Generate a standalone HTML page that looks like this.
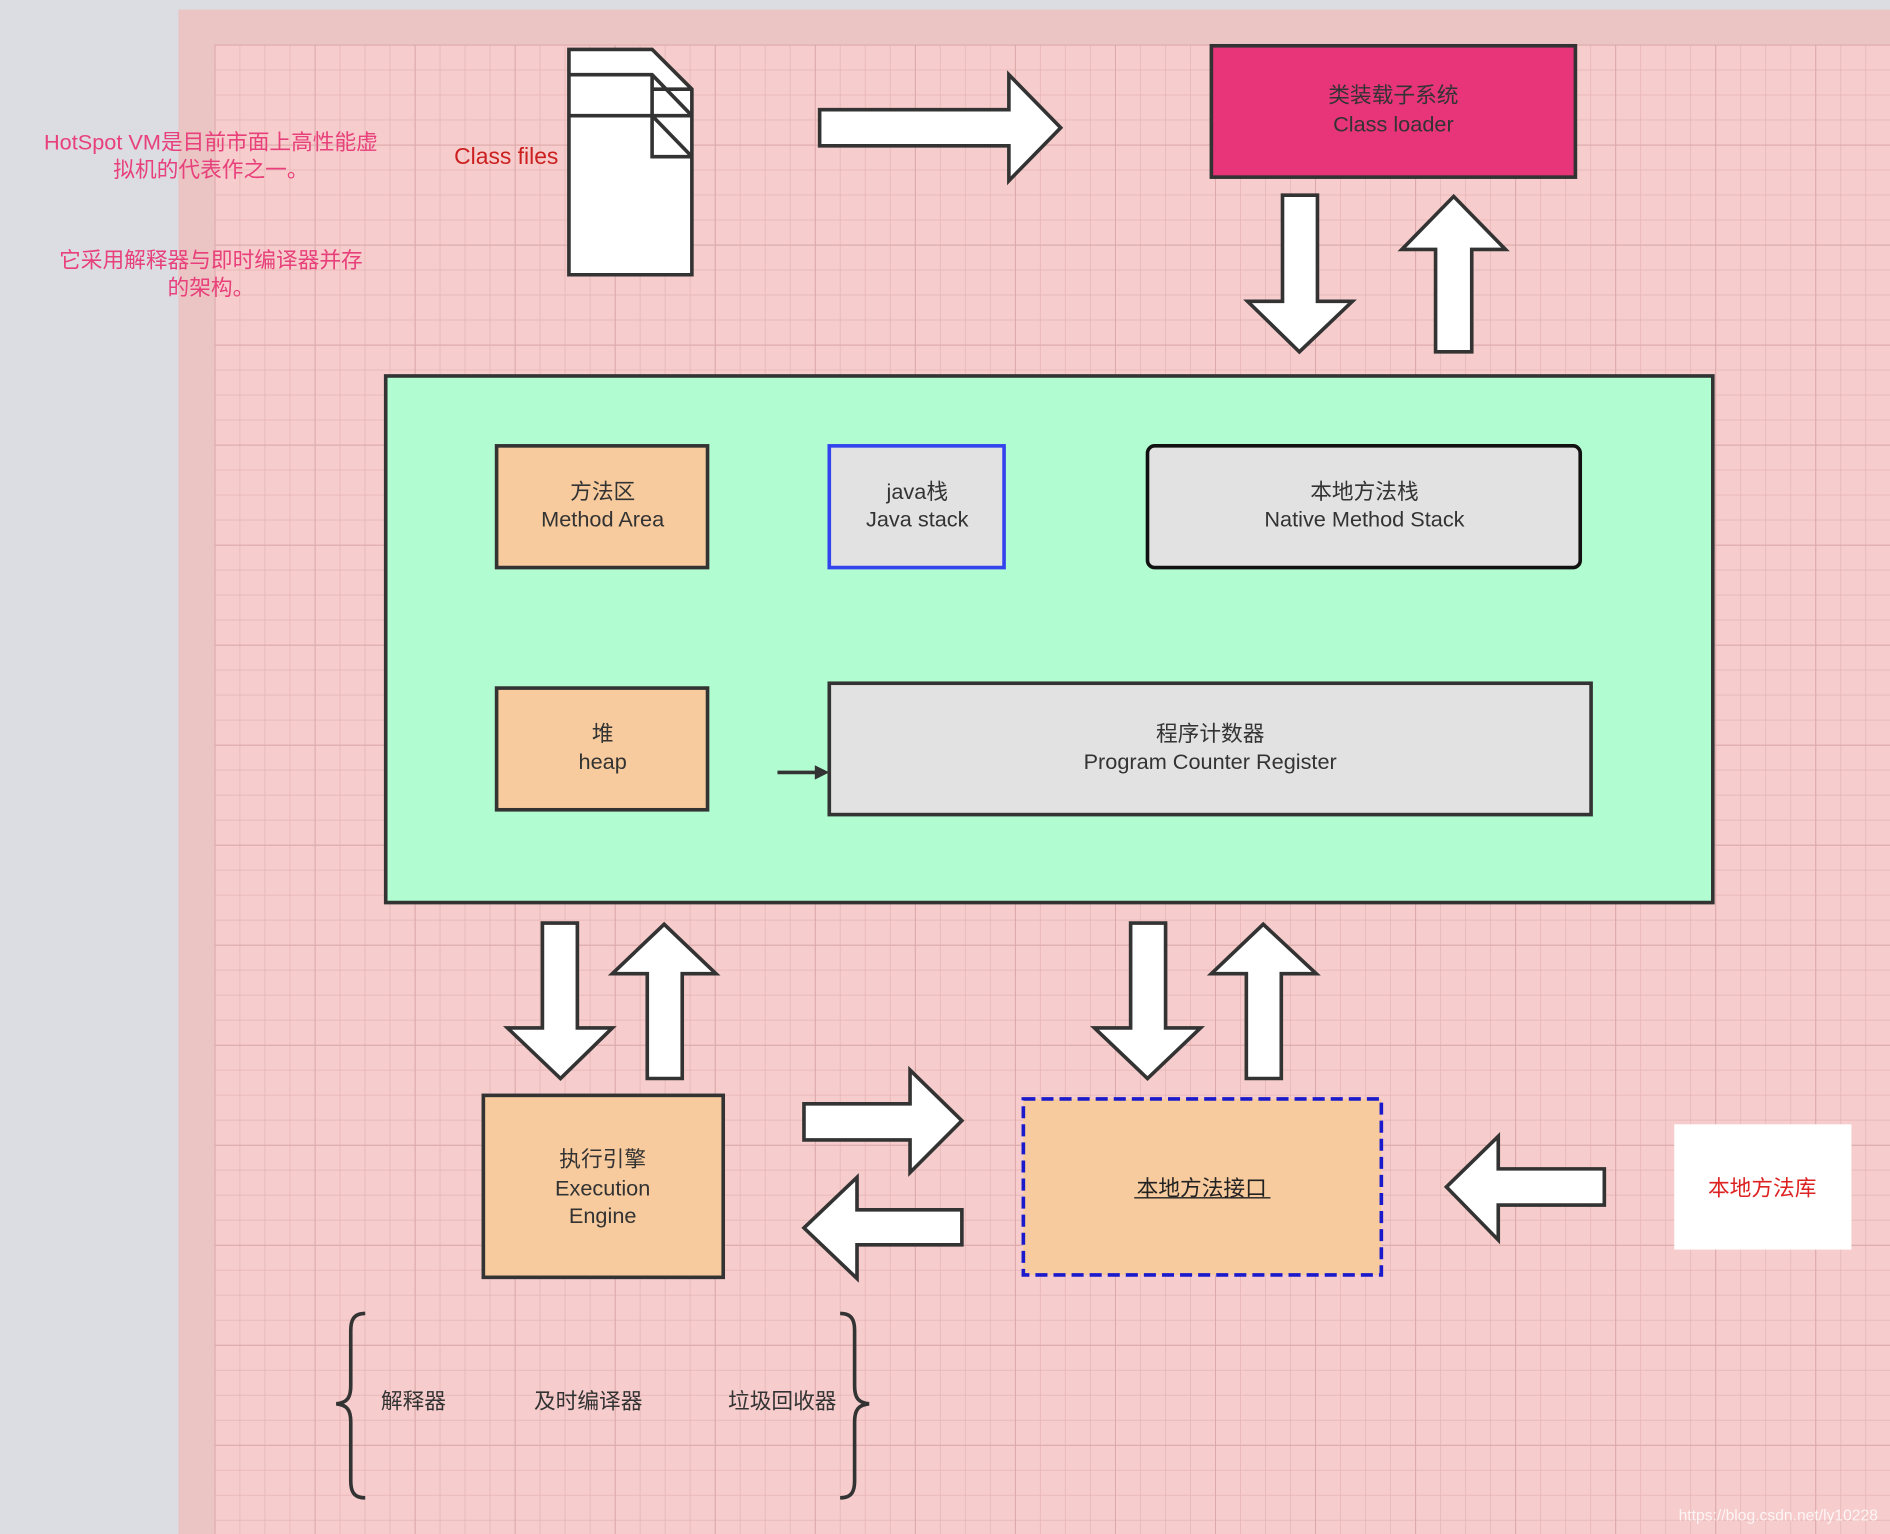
<!DOCTYPE html>
<html><head><meta charset="utf-8"><style>
html,body{margin:0;padding:0;width:1890px;height:1534px;overflow:hidden;background:#dcdde2}
svg{display:block}
text{font-family:"Liberation Sans","Noto Sans CJK SC",sans-serif}
</style></head><body>
<svg width="1890" height="1534" viewBox="0 0 1568 1273" preserveAspectRatio="none" xmlns="http://www.w3.org/2000/svg">
<defs>
<pattern id="minor" x="178" y="37" width="20.75" height="20.75" patternUnits="userSpaceOnUse">
<path d="M0 0H20.75M0 0V20.75" stroke="#e6b4b4" stroke-width="1.2" fill="none"/>
</pattern>
<pattern id="major" x="178" y="37" width="83" height="83" patternUnits="userSpaceOnUse">
<path d="M0 0H83M0 0V83" stroke="#dba8a8" stroke-width="1.6" fill="none"/>
</pattern>
</defs>
<rect x="0" y="0" width="1568" height="1273" fill="#dcdde2"/>
<rect x="148" y="8" width="1420" height="1265" fill="#ebc4c4"/>
<rect x="178" y="37" width="1390" height="1236" fill="#f6cccc"/>
<rect x="178" y="37" width="1390" height="1236" fill="url(#minor)"/>
<rect x="178" y="37" width="1390" height="1236" fill="url(#major)"/>

<g fill="#e8407a" font-size="18" text-anchor="middle">
<text x="175" y="124">HotSpot VM是目前市面上高性能虚</text>
<text x="175" y="147">拟机的代表作之一。</text>
<text x="175" y="222">它采用解释器与即时编译器并存</text>
<text x="175" y="245">的架构。</text>
</g>
<text x="420" y="136" fill="#cc2020" font-size="19" text-anchor="middle">Class files</text>

<g stroke="#333" stroke-width="3" fill="#fff">
<path d="M472 41H541L574 74V228H472Z"/>
<path d="M472 62H541L574 96M472 96H574M541 62V130H574M541 74H574M541 96L574 130" fill="none"/>

<path d="M680 91H837V62L880 106L837 150V121H680Z"/>
<path d="M1064 162H1093V250H1122L1078 292L1035 250H1064Z"/>
<path d="M1191 292V207H1163L1206 163L1249 207H1221V292Z"/>
<path d="M450 766H479V853H508L465 895L421 853H450Z"/>
<path d="M537 895V808H508L551 767L594 808H566V895Z"/>
<path d="M938 766H967V853H996L952 895L908 853H938Z"/>
<path d="M1034 895V808H1005L1048 767L1092 808H1063V895Z"/>
<path d="M667 916H755V888L798 930L755 973V946H667Z"/>
<path d="M798 1004H711V977L667 1019L711 1061V1033H798Z"/>
<path d="M1331 970H1243V943L1200 985L1243 1029V1000H1331Z"/>
</g>

<rect x="1005" y="38" width="302" height="109" fill="#e8357a" stroke="#333" stroke-width="3"/>
<g fill="#333" font-size="18" text-anchor="middle">
<text x="1156" y="85">类装载子系统</text>
<text x="1156" y="109">Class loader</text>
</g>

<rect x="320" y="312" width="1101" height="437" fill="#b1fcd1" stroke="#333" stroke-width="3"/>
<rect x="412" y="370" width="175" height="101" fill="#f7cb9d" stroke="#333" stroke-width="3"/>
<rect x="688" y="370" width="145" height="101" fill="#e2e2e2" stroke="#3344ee" stroke-width="3"/>
<rect x="952" y="370" width="359" height="101" rx="6" fill="#e2e2e2" stroke="#111" stroke-width="3"/>
<rect x="412" y="571" width="175" height="101" fill="#f7cb9d" stroke="#333" stroke-width="3"/>
<rect x="688" y="567" width="632" height="109" fill="#e2e2e2" stroke="#333" stroke-width="3"/>
<path d="M645 641H678" stroke="#333" stroke-width="3"/>
<path d="M676 635L688 641L676 647Z" fill="#333"/>

<g fill="#333" font-size="18" text-anchor="middle">
<text x="500" y="414">方法区</text><text x="500" y="437">Method Area</text>
<text x="761" y="414">java栈</text><text x="761" y="437">Java stack</text>
<text x="1132" y="414">本地方法栈</text><text x="1132" y="437">Native Method Stack</text>
<text x="500" y="615">堆</text><text x="500" y="638">heap</text>
<text x="1004" y="615">程序计数器</text><text x="1004" y="638">Program Counter Register</text>
</g>

<rect x="401" y="909" width="199" height="151" fill="#f7cb9d" stroke="#333" stroke-width="3"/>
<g fill="#333" font-size="18" text-anchor="middle">
<text x="500" y="968">执行引擎</text><text x="500" y="992">Execution</text><text x="500" y="1015">Engine</text>
</g>
<rect x="849" y="912" width="297" height="146" fill="#f7cb9d" stroke="#1a1acc" stroke-width="3" stroke-dasharray="10 5"/>
<text x="997" y="992" fill="#222" font-size="18" text-anchor="middle">本地方法接口</text>
<path d="M941 994H1054" stroke="#222" stroke-width="1.2"/>
<rect x="1389" y="933" width="147" height="104" fill="#fff"/>
<text x="1462" y="992" fill="#dd2222" font-size="18" text-anchor="middle">本地方法库</text>

<g stroke="#333" stroke-width="3" fill="none">
<path d="M303 1090C293 1090 291 1096 291 1104V1150C291 1160 288 1164 279 1165C288 1166 291 1170 291 1180V1229C291 1237 293 1243 303 1243"/>
<path d="M697 1090C707 1090 709 1096 709 1104V1150C709 1160 712 1164 721 1165C712 1166 709 1170 709 1180V1229C709 1237 707 1243 697 1243"/>
</g>
<g fill="#333" font-size="18" text-anchor="middle">
<text x="343" y="1169">解释器</text>
<text x="488" y="1169">及时编译器</text>
<text x="649" y="1169">垃圾回收器</text>
</g>
<text x="1558" y="1262" fill="#ffffff" fill-opacity="0.8" font-size="13" text-anchor="end">https://blog.csdn.net/ly10228</text>
</svg>
</body></html>
